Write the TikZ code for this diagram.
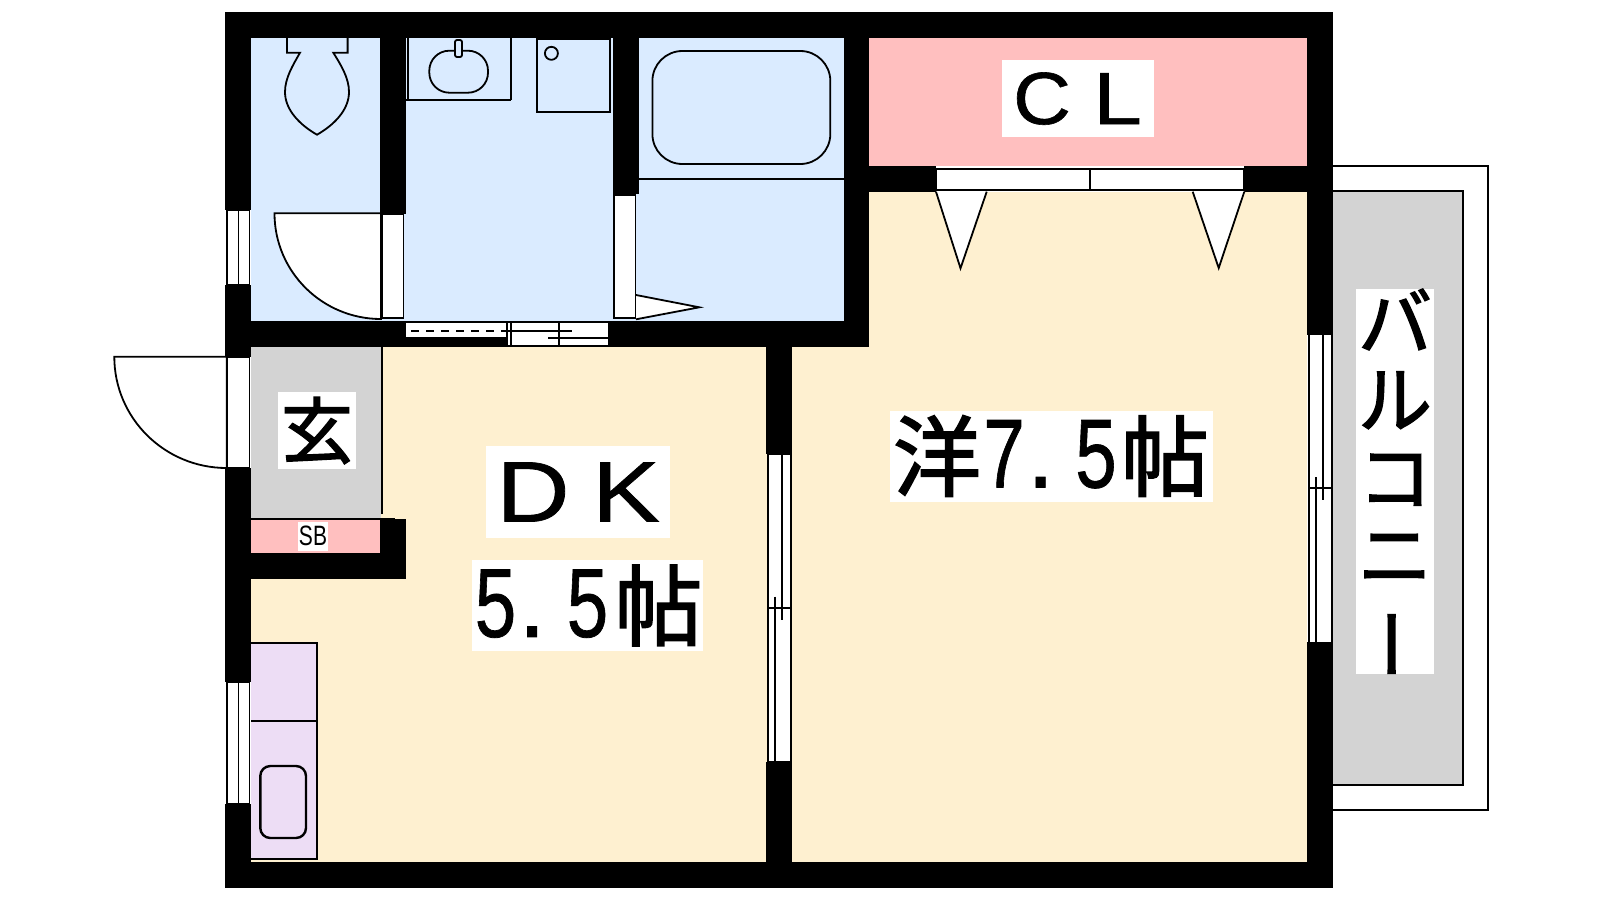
\documentclass[tikz,border=0pt]{standalone}
\usepackage{fontspec}
\setmainfont[FakeBold=1.9]{Noto Sans CJK JP}
\newfontfamily\latinfont{Liberation Sans}
\newfontfamily\figfont[FakeBold=0.8]{Liberation Sans}
\definecolor{wetfill}{HTML}{DAEBFF}
\definecolor{floorfill}{HTML}{FEF0D0}
\definecolor{closetfill}{HTML}{FFBFBF}
\definecolor{hallfill}{HTML}{D3D3D3}
\definecolor{counterfill}{HTML}{EDDDF5}
\newcommand{\tallfig}[1]{\makebox[23pt]{\raisebox{1pt}{\scalebox{0.76}[1]{\figfont\fontsize{49}{49}\selectfont #1}}}}
\newcommand{\tallstop}{\makebox[23pt][l]{\raisebox{1pt}{\figfont\fontsize{49}{49}\selectfont .}}}
\newcommand{\widecap}[2][1.18]{\scalebox{#1}[1]{\figfont #2}}
\tikzset{
	ln/.style={draw=black, line width=0.9pt},
	ln2/.style={draw=black, line width=1.2pt},
	wall/.style={fill=black},
	sash/.style={fill=white, draw=black, line width=0.9pt},
	tag/.style={fill=white, inner sep=0pt, text=black, anchor=center}
}
\begin{document}
\begin{tikzpicture}[x=0.5pt, y=-0.5pt]
		\useasboundingbox (0, 0) rectangle (1600, 900);
		\fill[white] (0, 0) rectangle (1600, 900);
		\draw[ln] (1333, 166) -- (1487.7, 166) -- (1487.7, 810) -- (1333, 810);
		\draw[ln, fill=hallfill] (1333, 191.3) -- (1462.7, 191.3) -- (1462.7, 785) -- (1333, 785);
		\fill[wetfill] (251, 37.7) rectangle (844, 321);
		\fill[floorfill] (251, 346.7) rectangle (1307, 862);
		\fill[floorfill] (869, 191.7) rectangle (1307, 346.7);
		\fill[closetfill] (869, 37.7) rectangle (1307, 166);
		\fill[hallfill] (251, 346.7) rectangle (381, 518.3);
		\fill[closetfill] (251, 520) rectangle (380, 552.7);
		\draw[ln, fill=counterfill] (251, 643.3) -- (316.7, 643.3) -- (316.7, 859.3) -- (251, 859.3);
		\draw[ln] (251, 721) -- (316.7, 721);
		\draw[ln2, rounded corners=5pt] (260.3, 766) rectangle (306, 838);
		\fill[wall] (225, 12) rectangle (1333, 37.7);
		\fill[wall] (225, 12) rectangle (251, 888);
		\fill[wall] (225, 862) rectangle (1333, 888);
		\fill[wall] (1307, 12) rectangle (1333, 888);
		\fill[wall] (380.3, 37.7) rectangle (405.8, 214);
		\fill[wall] (251, 321) rectangle (405.8, 346.7);
		\fill[wall] (612.5, 37.7) rectangle (638.5, 194);
		\fill[wall] (608, 321) rectangle (869, 346.7);
		\fill[wall] (844, 37.7) rectangle (869, 346.7);
		\fill[wall] (869, 166) rectangle (936, 191.7);
		\fill[wall] (1244, 166) rectangle (1307, 191.7);
		\fill[wall] (766, 346.7) rectangle (792, 454);
		\fill[wall] (766, 762) rectangle (792, 862);
		\fill[wall] (380, 519) rectangle (406, 579);
		\fill[wall] (251, 552.7) rectangle (406, 579);
		\draw[ln] (382, 347) -- (382, 514);
		\draw[ln] (251, 518.7) -- (395, 518.7);
		\foreach \ya/\yb in {210.3/285, 356.7/467.7, 682/804} {
			\fill[white] (225, \ya) rectangle (251, \yb);
			\draw[ln] (226.7, \ya) rectangle (249.5, \yb);
		}
		\foreach \ya/\yb in {210.3/285, 682/804}
			\draw[ln] (238.4, \ya) -- (238.4, \yb);
		\draw[ln, fill=white] (114.3, 356.7) arc[start angle=180, end angle=90, x radius=112.4, y radius=111.3] -- (226.7, 356.7) -- cycle;
		\draw[ln, fill=white] (274.5, 213.3) arc[start angle=180, end angle=90, x radius=106.5, y radius=105.7] -- (381, 213.3) -- cycle;
		\draw[sash] (381.6, 214.3) rectangle (403.4, 318.3);
		\draw[sash] (614.3, 194.7) rectangle (635.4, 318.3);
		\draw[ln, fill=white] (636, 295) -- (699.3, 307.3) -- (636, 319.3);
		\draw[ln] (636.7, 179.3) -- (844, 179.3);
		\draw[ln, rounded corners=15pt] (652.4, 51) rectangle (830.3, 164);
		\draw[ln] (407.8, 37.7) -- (407.8, 100) (511, 37.7) -- (511, 100) (406, 100) -- (511, 100);
		\draw[ln, rounded corners=10pt] (429.3, 50.7) rectangle (488, 92.7);
		\draw[ln, fill=wetfill, rounded corners=1pt] (455, 40) rectangle (462, 57);
		\draw[ln] (536.7, 39.3) rectangle (610, 111.7);
		\draw[ln] (551.4, 53.3) circle[radius=6.5];
		\draw[ln] (287, 37.7) -- (287, 52.7) -- (300, 52.7)
			.. controls (293, 65) and (285, 78) .. (285, 92)
			.. controls (285, 110) and (300, 125) .. (317, 134.7)
			.. controls (334, 125) and (349, 110) .. (349, 92)
			.. controls (349, 78) and (341, 65) .. (333.3, 52.7)
			-- (347.6, 52.7) -- (347.6, 37.7);
		\fill[white] (405.8, 321) rectangle (608, 346.7);
		\fill[wall] (405.8, 337.3) rectangle (507, 346.7);
		\draw[ln] (405, 322) -- (608, 322) (405, 346) -- (608, 346);
		\draw[ln] (506.7, 322) -- (506.7, 346) (510.7, 322) -- (510.7, 346) (559.3, 322) -- (559.3, 346);
		\draw[ln2, dash pattern=on 4pt off 3.5pt] (411, 330.7) -- (507, 330.7);
		\draw[ln] (504, 330.7) -- (571.7, 330.7) (548.3, 337.7) -- (608, 337.7);
		\draw[sash] (936, 168.7) rectangle (1244, 190.3);
		\draw[ln] (1090, 168.7) -- (1090, 190.3);
		\draw[ln, fill=white] (936, 191.7) -- (960.5, 268.3) -- (986.7, 191.7);
		\draw[ln, fill=white] (1192.7, 191.7) -- (1218.7, 268) -- (1244.3, 191.7);
		\fill[white] (1307, 334.7) rectangle (1333, 642);
		\draw[ln] (1309, 334.7) -- (1309, 642) (1332, 334.7) -- (1332, 642);
		\draw[ln] (1322.7, 334.7) -- (1322.7, 500) (1316, 477) -- (1316, 642) (1309, 488) -- (1332, 488);
		\draw[sash] (768, 454) rectangle (790.7, 762);
		\draw[ln] (782, 454) -- (782, 620) (775, 596.7) -- (775, 762) (768, 608) -- (790.7, 608);
		\node[tag, minimum width=76pt, minimum height=38.5pt, font=\fontsize{37}{37}\selectfont] (cl) at (1077.5, 98.6) {\makebox[38pt]{\hspace{2.5pt}\widecap[1.08]{C}}\makebox[38pt]{\hspace{2pt}\widecap{L}}};
		\node[tag, minimum width=39pt, minimum height=38.5pt, font=\fontsize{36}{36}\selectfont] (genkan) at (317, 430.5) {玄};
		\node[tag, minimum width=15.3pt, minimum height=14.6pt, font=\latinfont\fontsize{14}{14}\selectfont] (sb) at (313, 536.3) {\scalebox{0.75}[1]{SB}};
		\node[tag, minimum width=92pt, minimum height=45.7pt, font=\fontsize{43}{43}\selectfont] (dk) at (578, 492) {\makebox[46pt]{\hspace{1pt}\widecap{D}}\makebox[46pt]{\hspace{2pt}\widecap{K}}};
		\node[tag, minimum width=115.5pt, minimum height=45.5pt, font=\fontsize{44}{44}\selectfont] (dksize) at (587.5, 605.5) {\tallfig{5}\tallstop\tallfig{5}\hspace{2pt}帖};
		\node[tag, minimum width=161.5pt, minimum height=45.5pt, font=\fontsize{44}{44}\selectfont] (roomsize) at (1051, 456) {洋\tallfig{7}\tallstop\tallfig{5}\hspace{1pt}帖};
		\node[tag, minimum width=39pt, minimum height=192.5pt, align=center, font=\fontsize{37}{38.8}\selectfont] (balcony) at (1395, 481) {\raisebox{0pt}[30.5pt][0pt]{バ}\\ル\\コ\\ニ\\\raisebox{0pt}[0pt][6.8pt]{\makebox[0pt]{\hspace{9pt}\rotatebox[origin=c]{90}{ー}}}};
\end{tikzpicture}
\end{document}
